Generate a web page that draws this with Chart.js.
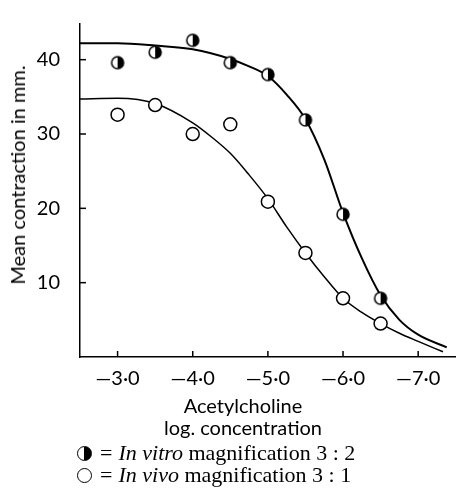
<!DOCTYPE html>
<html>
<head>
<meta charset="utf-8">
<script src="https://cdn.jsdelivr.net/npm/chart.js@4.4.0/dist/chart.umd.min.js"></script>
<style>
    html, body { margin: 0; padding: 0; background: #fff; }
    #wrap { position: relative; width: 463px; height: 493px; }
    #chart { position: absolute; left: 0; top: 0; }
    .ytitle {
        position: absolute; left: 17px; top: 175px;
        transform: translate(-50%, -50%) rotate(-90deg);
        font: 20px Lato, sans-serif; white-space: nowrap; color: #000;
    }
    .xtitle {
        position: absolute; left: 243px; top: 394px;
        transform: translateX(-50%);
        text-align: center; font: 20px Lato, sans-serif; line-height: 22px; color: #000;
        white-space: nowrap;
    }
    .legend {
        position: absolute; left: 77px; top: 442px;
        font: 22px "Liberation Serif", serif; line-height: 22px; color: #000;
        white-space: nowrap;
    }
    .sym {
        display: inline-block; width: 13px; height: 13px; border: 1.5px solid #000;
        border-radius: 50%; vertical-align: -1px; margin-right: 8px;
    }
    .sym.half { background: linear-gradient(to right, #fff 50%, #000 50%); }
    .eq { margin-right: 6px; }
</style>
</head>
<body>
<div id="wrap">
    <canvas id="chart" width="463" height="395"></canvas>
    <div class="ytitle">Mean contraction in mm.</div>
    <div class="xtitle">Acetylcholine<br>log. concentration</div>
    <div class="legend">
        <div><span class="sym half"></span><span class="eq">=</span><i>In vitro</i> magnification 3 : 2</div>
        <div><span class="sym"></span><span class="eq">=</span><i>In vivo</i> magnification 3 : 1</div>
    </div>
</div>
<script>
// log concentration of acetylcholine
const doseX = [-3.0, -3.5, -4.0, -4.5, -5.0, -5.5, -6.0, -6.5];

// measured points (mm)
const inVitroY = [39.6, 41.0, 42.6, 39.6, 38.0, 31.9, 19.2, 7.9];
const inVivoY  = [32.6, 33.9, 30.0, 31.3, 20.9, 14.0, 7.9, 4.5];

// fitted curves
const vitroCurveX = [-2.5, -3.0, -3.5, -4.0, -4.5, -4.75, -5.0, -5.25, -5.5, -5.75, -6.0, -6.25, -6.5, -6.75, -7.0, -7.38];
const vitroCurveY = [42.2, 42.2, 41.9, 41.4, 40.1, 39.1, 37.8, 35.3, 32.0, 26.6, 19.4, 13.3, 8.3, 5.0, 3.0, 1.3];
const vivoCurveX  = [-2.5, -3.0, -3.5, -4.0, -4.25, -4.5, -4.75, -5.0, -5.25, -5.5, -5.75, -6.0, -6.25, -6.5, -6.75, -7.0, -7.33];
const vivoCurveY  = [34.7, 34.8, 34.1, 31.5, 29.6, 27.4, 24.5, 21.3, 17.5, 14.0, 10.8, 7.9, 6.0, 4.5, 3.2, 2.1, 0.7];

// axis ticks
const xTickValues = [-3, -4, -5, -6, -7];
const xTickLabels = ['\u20143\u00b70', '\u20144\u00b70', '\u20145\u00b70', '\u20146\u00b70', '\u20147\u00b70'];
const yTickValues = [10, 20, 30, 40];
const yTickLabels = ['10', '20', '30', '40'];

const toPoints = (xs, ys) => xs.map((x, i) => ({ x: x, y: ys[i] }));

// half-filled (right half black) marker
function halfDisc(r) {
    const size = 2 * r + 4;
    const cv = document.createElement('canvas');
    cv.width = size; cv.height = size;
    const g = cv.getContext('2d');
    const c = size / 2;
    g.beginPath();
    g.arc(c, c, r, 0, 2 * Math.PI);
    g.fillStyle = '#fff';
    g.fill();
    g.beginPath();
    g.arc(c, c, r, -Math.PI / 2, Math.PI / 2);
    g.closePath();
    g.fillStyle = '#000';
    g.fill();
    g.beginPath();
    g.arc(c, c, r, 0, 2 * Math.PI);
    g.lineWidth = 1.5;
    g.strokeStyle = '#000';
    g.stroke();
    return cv;
}

// short tick marks pointing into the plot
const innerTicks = {
    id: 'innerTicks',
    afterDraw(chart) {
        const { ctx, chartArea, scales } = chart;
        ctx.save();
        ctx.strokeStyle = '#000';
        ctx.lineWidth = 1.5;
        scales.x.ticks.forEach(t => {
            const px = scales.x.getPixelForValue(t.value);
            ctx.beginPath();
            ctx.moveTo(px, chartArea.bottom);
            ctx.lineTo(px, chartArea.bottom - 6);
            ctx.stroke();
        });
        scales.y.ticks.forEach(t => {
            const py = scales.y.getPixelForValue(t.value);
            ctx.beginPath();
            ctx.moveTo(chartArea.left, py);
            ctx.lineTo(chartArea.left + 6, py);
            ctx.stroke();
        });
        ctx.restore();
    }
};

new Chart(document.getElementById('chart').getContext('2d'), {
    type: 'scatter',
    data: {
        datasets: [
            {
                label: 'In vitro curve',
                data: toPoints(vitroCurveX, vitroCurveY),
                showLine: true,
                cubicInterpolationMode: 'monotone',
                borderColor: '#000',
                borderWidth: 2,
                pointRadius: 0,
                order: 2
            },
            {
                label: 'In vivo curve',
                data: toPoints(vivoCurveX, vivoCurveY),
                showLine: true,
                cubicInterpolationMode: 'monotone',
                borderColor: '#000',
                borderWidth: 1.5,
                pointRadius: 0,
                order: 2
            },
            {
                label: 'In vitro',
                data: toPoints(doseX, inVitroY),
                pointStyle: halfDisc(6),
                pointRadius: 6,
                order: 1
            },
            {
                label: 'In vivo',
                data: toPoints(doseX, inVivoY),
                pointStyle: 'circle',
                pointRadius: 6.5,
                borderWidth: 1.5,
                borderColor: '#000',
                backgroundColor: '#fff',
                order: 1
            }
        ]
    },
    options: {
        responsive: false,
        animation: false,
        layout: { padding: { top: 13, right: 1, left: 0, bottom: 0 } },
        plugins: {
            legend: { display: false },
            tooltip: { enabled: false }
        },
        scales: {
            x: {
                type: 'linear',
                reverse: true,
                min: -7.49,
                max: -2.5,
                afterBuildTicks: scale => { scale.ticks = xTickValues.map(v => ({ value: v })); },
                afterFit: scale => { scale.height = 38; },
                grid: { display: false },
                border: { display: true, color: '#000', width: 1.5 },
                ticks: {
                    color: '#000',
                    font: { family: 'Lato', size: 20 },
                    padding: 2,
                    maxRotation: 0,
                    callback: v => xTickLabels[xTickValues.indexOf(v)]
                }
            },
            y: {
                min: 0,
                max: 44.8,
                afterBuildTicks: scale => { scale.ticks = yTickValues.map(v => ({ value: v })); },
                afterFit: scale => { scale.width = 80; },
                grid: { display: false },
                border: { display: true, color: '#000', width: 1.5 },
                ticks: {
                    color: '#000',
                    font: { family: 'Lato', size: 20 },
                    padding: 12,
                    callback: v => yTickLabels[yTickValues.indexOf(v)]
                }
            }
        }
    },
    plugins: [innerTicks]
});
</script>
</body>
</html>
